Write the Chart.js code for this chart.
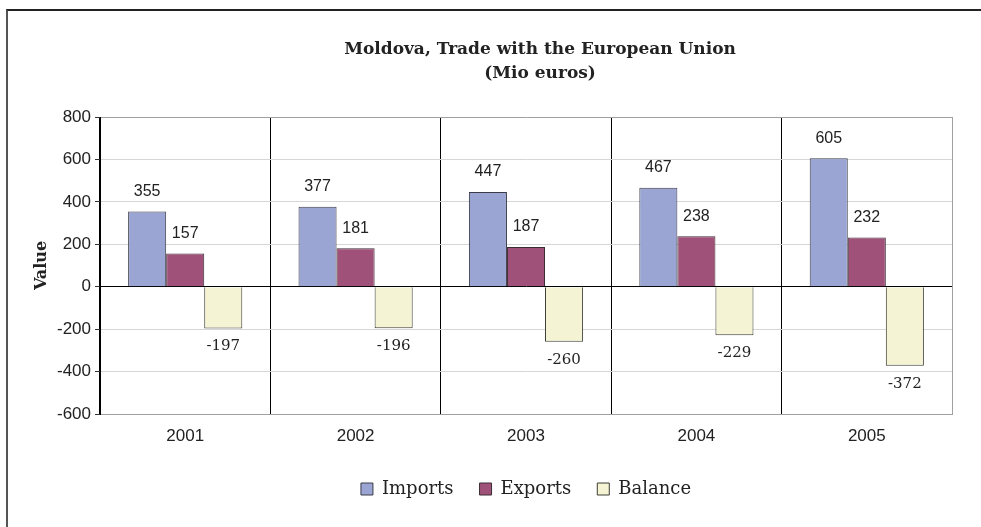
<!DOCTYPE html>
<html>
<head>
<meta charset="utf-8">
<script src="https://cdn.jsdelivr.net/npm/chart.js@4.4.1/dist/chart.umd.min.js"></script>
<style>
  html, body { margin: 0; padding: 0; background: #fff; }
  #wrap { position: relative; width: 981px; height: 527px; overflow: hidden; }
  #frame {
    position: absolute; left: 6px; top: 9px; width: 1000px; height: 600px;
    border-left: 2px solid #555; border-top: 2px solid #222;
    pointer-events: none;
  }
</style>
</head>
<body>
<div id="wrap">
  <canvas id="chart" width="981" height="527"></canvas>
  <div id="frame"></div>
</div>
<script>
// Data
const YEARS = ["2001", "2002", "2003", "2004", "2005"];
const IMPORTS = [355, 377, 447, 467, 605];
const EXPORTS = [157, 181, 187, 238, 232];
const BALANCE = [-197, -196, -260, -229, -372];
const SERIES_NAMES = ["Imports", "Exports", "Balance"];
const TITLE_LINES = ["Moldova, Trade with the European Union", "(Mio euros)"];

const SANS = "'Liberation Sans', Arial, sans-serif";
const SERIF = "'DejaVu Serif', serif";
const TEXT = "#222";

// Value labels on the bars: above for positive, below for negative
const barLabels = {
  id: "barLabels",
  afterDatasetsDraw(chart) {
    const ctx = chart.ctx;
    ctx.save();
    ctx.fillStyle = TEXT;
    ctx.textAlign = "center";
    ctx.textBaseline = "middle";
    chart.data.datasets.forEach((ds, di) => {
      const meta = chart.getDatasetMeta(di);
      meta.data.forEach((bar, i) => {
        const v = ds.data[i];
        if (v >= 0) {
          ctx.font = "16px " + SANS;
          ctx.fillText(String(v), bar.x, bar.y - 20);
        } else {
          ctx.font = "15px " + SERIF;
          ctx.fillText(String(v), bar.x, bar.y + 18);
        }
      });
    });
    ctx.restore();
  },
};

// shift the title a little to the right, as in the original
const titleNudge = {
  id: "titleNudge",
  afterLayout(chart) {
    const t = chart.titleBlock;
    if (t) {
      t.left += 14;
      t.right += 14;
    }
  },
};

new Chart(document.getElementById("chart"), {
  type: "bar",
  data: {
    labels: YEARS,
    datasets: [
      {
        label: SERIES_NAMES[0],
        data: IMPORTS,
        backgroundColor: "#9aa5d4",
        borderColor: "#3c3c48",
        borderWidth: 1,
      },
      {
        label: SERIES_NAMES[1],
        data: EXPORTS,
        backgroundColor: "#a0517a",
        borderColor: "#3c2c34",
        borderWidth: 1,
      },
      {
        label: SERIES_NAMES[2],
        data: BALANCE,
        backgroundColor: "#f4f3d4",
        borderColor: "#3c3c34",
        borderWidth: 1,
      },
    ],
  },
  options: {
    responsive: false,
    animation: false,
    layout: { padding: { left: 0, right: 29, top: 0, bottom: 19 } },
    datasets: {
      bar: { categoryPercentage: 0.67, barPercentage: 1.0 },
    },
    scales: {
      x: {
        grid: {
          offset: true,
          drawTicks: false,
          color: (c) => (c.type === "tick" ? "#000" : "#a0a0a0"),
        },
        border: { display: true, color: "#a0a0a0" },
        ticks: {
          color: TEXT,
          font: { family: SANS, size: 17 },
          padding: 12,
        },
        afterFit: (scale) => {
          scale.height = 40;
        },
      },
      y: {
        min: -600,
        max: 800,
        ticks: {
          stepSize: 200,
          color: TEXT,
          font: { family: SANS, size: 17 },
          padding: 4,
        },
        grid: {
          tickLength: 5,
          tickColor: "#333",
          color: (c) => {
            const v = c.tick ? c.tick.value : null;
            if (v === 0) return "#000";
            if (v === 800 || v === -600) return "#a0a0a0";
            return "#d6d6d6";
          },
        },
        border: { display: true, color: "#000" },
        title: {
          display: true,
          text: "Value",
          color: TEXT,
          font: { family: SERIF, size: 16, weight: "bold" },
          padding: { top: 32, bottom: 0 },
        },
        afterFit: (scale) => {
          scale.width = 100;
        },
      },
    },
    plugins: {
      title: {
        display: true,
        fullSize: false,
        text: TITLE_LINES,
        color: TEXT,
        font: { family: SERIF, size: 17, weight: "bold", lineHeight: 24 / 17 },
        padding: { top: 38, bottom: 31 },
      },
      legend: {
        position: "bottom",
        fullSize: false,
        labels: {
          color: TEXT,
          font: { family: SERIF, size: 18 },
          boxWidth: 12,
          boxHeight: 12,
          padding: 26,
        },
      },
      tooltip: { enabled: false },
    },
  },
  plugins: [barLabels, titleNudge],
});
</script>
</body>
</html>
